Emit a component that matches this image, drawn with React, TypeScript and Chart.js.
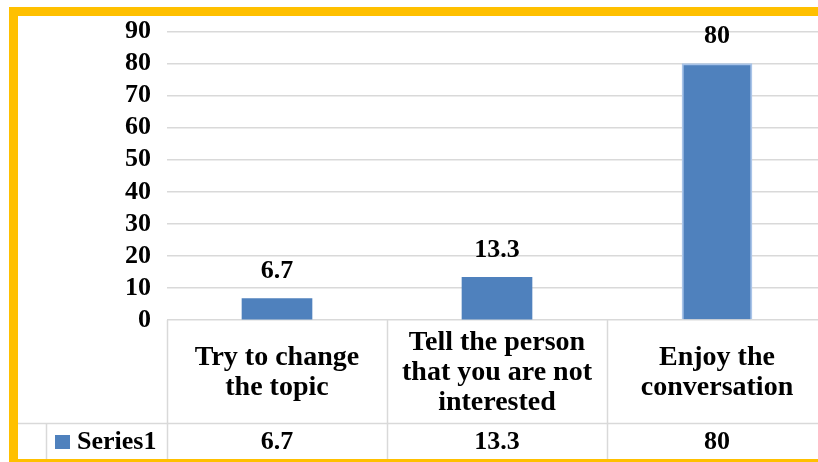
import React, { useEffect, useRef } from "react";
import { Chart, registerables } from "chart.js";

Chart.register(...registerables);

// ---- data ----
const categories: string[][] = [
  ["Try to change", "the topic"],
  ["Tell the person", "that you are not", "interested"],
  ["Enjoy the", "conversation"],
];
const seriesName = "Series1";
const values: number[] = [6.7, 13.3, 80];
const valueLabels: string[] = ["6.7", "13.3", "80"];
const yMin = 0;
const yMax = 90;
const yStep = 10;

const FONT_FAMILY = "'Liberation Serif', 'Times New Roman', serif";
const FONT = `bold 26px ${FONT_FAMILY}`;
const CAT_FONT = `bold 28px ${FONT_FAMILY}`;
const BAR_COLOR = "#4f81bd";
const GRID_COLOR = "#d9d9d9";
const FRAME_COLOR = "#ffc000";
const CANVAS_W = 840;
const CANVAS_H = 462;

const tablePlugin = {
  id: "excelTable",
  beforeDraw(chart: any) {
    const ctx = chart.ctx;
    ctx.save();
    ctx.fillStyle = "#ffffff";
    ctx.fillRect(0, 0, chart.width, chart.height);
    ctx.restore();
  },
  afterDraw(chart: any) {
    const ctx: CanvasRenderingContext2D = chart.ctx;
    const xs = chart.scales.x;
    const area = chart.chartArea;
    const n = categories.length;
    const catW = n > 1 ? xs.getPixelForValue(1) - xs.getPixelForValue(0) : area.right - area.left;
    const top = area.bottom; // table top (axis line)
    const rowSep = top + 103;
    const bottom = 459;

    ctx.save();
    // table lines
    ctx.strokeStyle = GRID_COLOR;
    ctx.lineWidth = 1.5;
    ctx.beginPath();
    for (let i = 0; i <= n; i++) {
      const lx = Math.round(xs.getPixelForValue(0) - catW / 2 + i * catW) + 0.5;
      ctx.moveTo(lx, top);
      ctx.lineTo(lx, bottom);
    }
    ctx.moveTo(46.5, rowSep);
    ctx.lineTo(46.5, bottom);
    ctx.moveTo(18, rowSep + 0.5);
    ctx.lineTo(chart.width, rowSep + 0.5);
    ctx.stroke();

    // category labels
    ctx.fillStyle = "#000";
    ctx.font = CAT_FONT;
    ctx.textAlign = "center";
    ctx.textBaseline = "middle";
    const midY = (top + rowSep) / 2 + 1;
    const lh = 30;
    categories.forEach((lines, i) => {
      const cx = xs.getPixelForValue(i);
      lines.forEach((ln, j) => {
        ctx.fillText(ln, cx, midY + (j - (lines.length - 1) / 2) * lh);
      });
    });

    // values row
    ctx.font = FONT;
    const rowY = (rowSep + bottom) / 2 + 1;
    valueLabels.forEach((v, i) => {
      ctx.fillText(v, xs.getPixelForValue(i), rowY);
    });

    // legend key
    ctx.fillStyle = BAR_COLOR;
    ctx.fillRect(55, rowY - 7, 15, 14);
    ctx.fillStyle = "#000";
    ctx.textAlign = "left";
    ctx.fillText(seriesName, 77, rowY);

    // data labels above bars
    const meta = chart.getDatasetMeta(0);
    ctx.textAlign = "center";
    meta.data.forEach((bar: any, i: number) => {
      ctx.fillText(valueLabels[i], bar.x, bar.y - 27);
    });

    // yellow frame
    ctx.fillStyle = FRAME_COLOR;
    ctx.fillRect(9, 7, chart.width, 9);
    ctx.fillRect(9, 7, 9, CANVAS_H);
    ctx.fillRect(9, bottom, chart.width, CANVAS_H - bottom);
    ctx.restore();
  },
};

export default function App() {
  const ref = useRef<HTMLCanvasElement | null>(null);

  useEffect(() => {
    if (!ref.current) return;
    const chart = new Chart(ref.current, {
      type: "bar",
      data: {
        labels: categories.map((c) => c.join(" ")),
        datasets: [
          {
            label: seriesName,
            data: values,
            backgroundColor: BAR_COLOR,
            borderColor: ["rgba(0,0,0,0)", "rgba(0,0,0,0)", "#a9c4e8"],
            borderWidth: [0, 0, 2],
            borderSkipped: "bottom",
            barThickness: 70,
          },
        ],
      },
      options: {
        responsive: false,
        animation: false,
        devicePixelRatio: 1,
        layout: { padding: { left: 0, right: 13, top: 26, bottom: CANVAS_H - 320 } },
        plugins: {
          legend: { display: false },
          tooltip: { enabled: false },
          title: { display: false },
        },
        scales: {
          x: { display: false },
          y: {
            min: yMin,
            max: yMax,
            ticks: {
              stepSize: yStep,
              autoSkip: false,
              padding: 16,
              color: "#000",
              font: { family: FONT_FAMILY, size: 26, weight: "bold" },
            },
            grid: { color: GRID_COLOR, lineWidth: 1.5, drawTicks: false },
            border: { display: false },
            afterFit: (scale: any) => {
              scale.width = 167;
            },
          },
        },
      },
      plugins: [tablePlugin],
    } as any);
    return () => chart.destroy();
  }, []);

  return (
    <div
      style={{
        position: "fixed",
        left: 0,
        top: 0,
        width: 818,
        height: 462,
        overflow: "hidden",
        background: "#fff",
      }}
    >
      <canvas ref={ref} width={CANVAS_W} height={CANVAS_H} style={{ display: "block" }} />
    </div>
  );
}
